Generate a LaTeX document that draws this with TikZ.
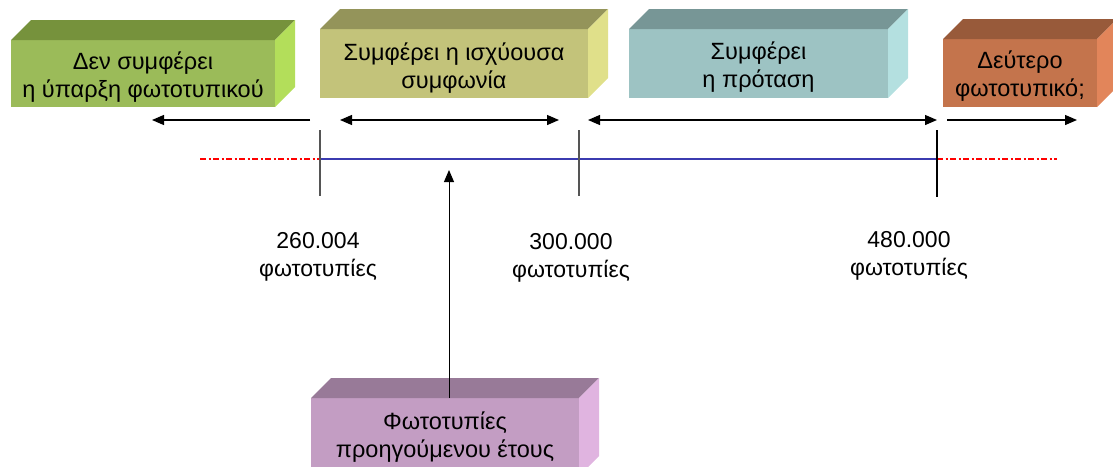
\documentclass[tikz,border=0pt]{standalone}
\usepackage{fontspec}
\setmainfont{Liberation Sans}
\usetikzlibrary{arrows.meta,calc}
\definecolor{gfront}{HTML}{9BBB59}\definecolor{gtop}{HTML}{76923C}\definecolor{gside}{HTML}{B3DE5A}
\definecolor{yfront}{HTML}{C3C37A}\definecolor{ytop}{HTML}{94945A}\definecolor{yside}{HTML}{E0E08A}
\definecolor{tfront}{HTML}{9DC3C3}\definecolor{ttop}{HTML}{779696}\definecolor{tside}{HTML}{B4E0E0}
\definecolor{ofront}{HTML}{C4744C}\definecolor{otop}{HTML}{985A3A}\definecolor{oside}{HTML}{E2855A}
\definecolor{pfront}{HTML}{C39DC3}\definecolor{ptop}{HTML}{987A98}\definecolor{pside}{HTML}{E0B4E0}
\definecolor{tickgray}{HTML}{555555}
\definecolor{axisblue}{HTML}{3B3BB0}
\newcommand\cubefaces[3]{%
  \fill[#2] (#1.north west) -- ++(20,-20) -- ($(#1.north east)+(20,-20)$) -- (#1.north east) -- cycle;
  \fill[#3] (#1.north east) -- ++(20,-20) -- ($(#1.south east)+(20,-20)$) -- (#1.south east) -- cycle;}
\tikzset{
  boxfront/.style={inner sep=0pt, outer sep=0pt},
  boxtext/.style={inner sep=0pt, align=center, font=\fontsize{23.5}{28}\selectfont},
  valuelabel/.style={inner sep=0pt, align=center, font=\fontsize{23}{27.5}\selectfont},
  rangearrow/.style={line width=1.3pt, -{Triangle[length=12pt,width=10pt]}},
  bothway/.style={line width=1.3pt, {Triangle[length=12pt,width=10pt]}-{Triangle[length=12pt,width=10pt]}},
  tickline/.style={draw=tickgray, line width=1.3pt},
  axisline/.style={draw=axisblue, line width=1.2pt},
  extline/.style={draw=red, line width=1.1pt, dash pattern=on 6pt off 2.5pt on 2pt off 2.5pt},
}
\begin{document}
\begin{tikzpicture}[x=1pt,y=-1pt]
\useasboundingbox (0,0) rectangle (1113,466);
\clip (0,0) rectangle (1113,466);
% boxes
\node[boxfront, fill=gfront, minimum width=264pt, minimum height=67pt,
  label={[boxtext, yshift=-4pt]center:{Δεν συμφέρει\\η ύπαρξη φωτοτυπικού}}] (b1) at (143,73.5) {};
\cubefaces{b1}{gtop}{gside}
\node[boxfront, fill=yfront, minimum width=268pt, minimum height=69pt,
  label={[boxtext, yshift=-5pt]center:{Συμφέρει η ισχύουσα\\συμφωνία}}] (b2) at (454,63.5) {};
\cubefaces{b2}{ytop}{yside}
\node[boxfront, fill=tfront, minimum width=259pt, minimum height=69pt,
  label={[boxtext, yshift=-4pt]center:{Συμφέρει\\η πρόταση}}] (b3) at (758.5,63.5) {};
\cubefaces{b3}{ttop}{tside}
\node[boxfront, fill=ofront, minimum width=154pt, minimum height=68pt,
  label={[boxtext, yshift=-3pt]center:{Δεύτερο\\φωτοτυπικό;}}] (b4) at (1020,73) {};
\cubefaces{b4}{otop}{oside}
\node[boxfront, fill=pfront, minimum width=268pt, minimum height=78pt,
  label={[boxtext]center:{Φωτοτυπίες\\προηγούμενου έτους}}] (b5) at (445,437) {};
\cubefaces{b5}{ptop}{pside}
% coordinates
\coordinate (a1s) at (310,120); \coordinate (a1e) at (152,120);
\coordinate (a2s) at (340,120); \coordinate (a2e) at (559,120);
\coordinate (a3s) at (588,120); \coordinate (a3e) at (937,120);
\coordinate (a4s) at (947,120); \coordinate (a4e) at (1077,120);
\coordinate (t1a) at (320,130); \coordinate (t1b) at (320,196);
\coordinate (t2a) at (579,130); \coordinate (t2b) at (579,196);
\coordinate (t3a) at (937,130); \coordinate (t3b) at (937,197);
\coordinate (t1) at (320,159); \coordinate (t2) at (579,159); \coordinate (t3) at (937,159);
\coordinate (redL) at (200,159); \coordinate (redR) at (1057,159);
\coordinate (up) at (449,170);
% axis
\draw[extline] (redL) -- (t1);
\draw[extline] (t3) -- (redR);
\draw[axisline] (t1) -- (t3);
\draw[tickline] (t1a) -- (t1b);
\draw[tickline] (t2a) -- (t2b);
\draw[draw=black, line width=1.3pt] (t3a) -- (t3b);
% range arrows
\draw[rangearrow] (a1s) -- (a1e);
\draw[bothway] (a2s) -- (a2e);
\draw[bothway] (a3s) -- (a3e);
\draw[rangearrow] (a4s) -- (a4e);
% upward arrow
\draw[line width=1pt, -{Triangle[length=12pt,width=10pt]}] (b5.north -| up) -- (up);
% labels
\node[valuelabel] (l1) at (318,257) {260.004\\φωτοτυπίες};
\node[valuelabel] (l2) at (571,258) {300.000\\φωτοτυπίες};
\node[valuelabel] (l3) at (909,256) {480.000\\φωτοτυπίες};
\end{tikzpicture}
\end{document}
